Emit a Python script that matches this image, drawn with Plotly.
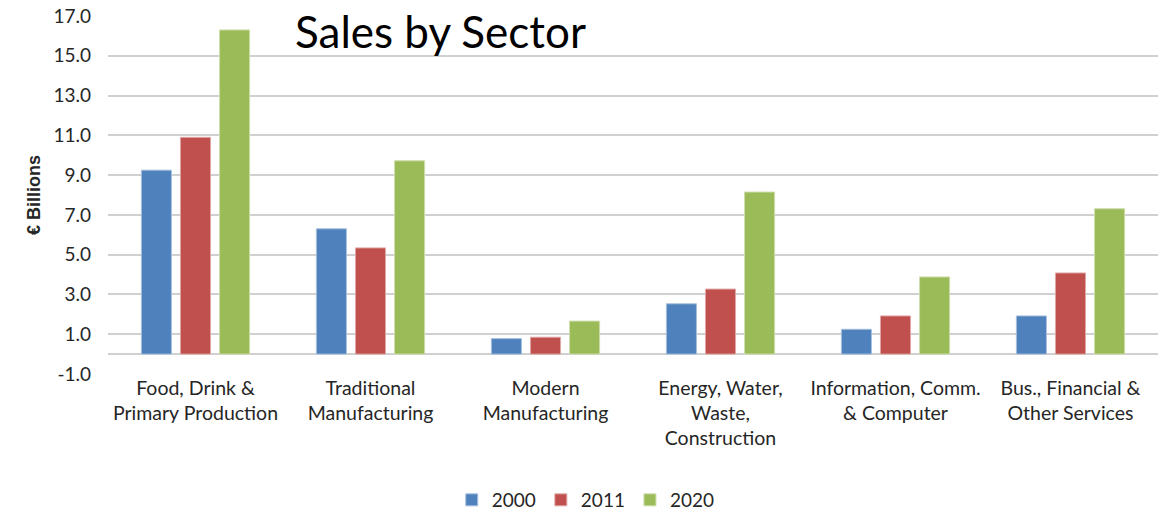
import plotly.graph_objects as go

# Sector labels (line breaks as shown under the axis)
sectors = [
    "Food, Drink &<br>Primary Production",
    "Traditional<br>Manufacturing",
    "Modern<br>Manufacturing",
    "Energy, Water,<br>Waste,<br>Construction",
    "Information, Comm.<br>& Computer",
    "Bus., Financial &<br>Other Services",
]

# Sales in € billions per year
sales_2000 = [9.25, 6.30, 0.78, 2.53, 1.25, 1.92]
sales_2011 = [10.9, 5.34, 0.85, 3.27, 1.92, 4.08]
sales_2020 = [16.3, 9.72, 1.66, 8.15, 3.88, 7.31]

years = ["2000", "2011", "2020"]
colors = ["#4F81BD", "#C0504D", "#9BBB59"]
edge = ["#A7C0DE", "#DFA8A6", "#CDDDAC"]

y_ticks = [-1, 1, 3, 5, 7, 9, 11, 13, 15, 17]
y_tick_text = ["-1.0", "1.0", "3.0", "5.0", "7.0", "9.0", "11.0", "13.0", "15.0", "17.0"]

FONT = "Lato"
TXT = "#262626"

fig = go.Figure()
for name, vals, col, ec in zip(years, [sales_2000, sales_2011, sales_2020], colors, edge):
    fig.add_trace(go.Bar(
        x=sectors, y=vals, name=name,
        marker=dict(color=col, line=dict(color=ec, width=1)),
    ))

fig.update_layout(
    width=1163, height=515,
    margin=dict(l=108, r=5, t=16, b=141, autoexpand=False),
    paper_bgcolor="white", plot_bgcolor="white",
    barmode="group", bargap=0.33, bargroupgap=0.23,
    font=dict(family=FONT, size=19, color=TXT),
    showlegend=True,
    legend=dict(
        orientation="h", x=0.455, xanchor="center", y=-0.352, yanchor="middle",
        font=dict(family=FONT, size=19, color=TXT),
        itemwidth=30, traceorder="normal",
    ),
    annotations=[dict(
        text="Sales by Sector", xref="paper", yref="paper",
        x=0.176, y=1.035, xanchor="left", yanchor="top", showarrow=False,
        font=dict(family=FONT, size=44, color="black"),
    )],
)

fig.update_xaxes(
    automargin=False,
    showgrid=False, showline=False, ticks="",
    tickfont=dict(family=FONT, size=19.5, color=TXT),
)
fig.update_yaxes(
    automargin=False,
    range=[-1, 17], tickvals=y_ticks, ticktext=y_tick_text,
    showgrid=True, gridcolor="#D0D0D0", gridwidth=2,
    zeroline=True, zerolinecolor="#D0D0D0", zerolinewidth=2,
    showline=False, ticks="", ticklabelstandoff=16,
    tickfont=dict(family=FONT, size=19, color=TXT),
    title=dict(text="<b>€ Billions</b>", standoff=8,
               font=dict(family="Liberation Sans", size=18, color=TXT)),
)

fig.write_html("out.html")
